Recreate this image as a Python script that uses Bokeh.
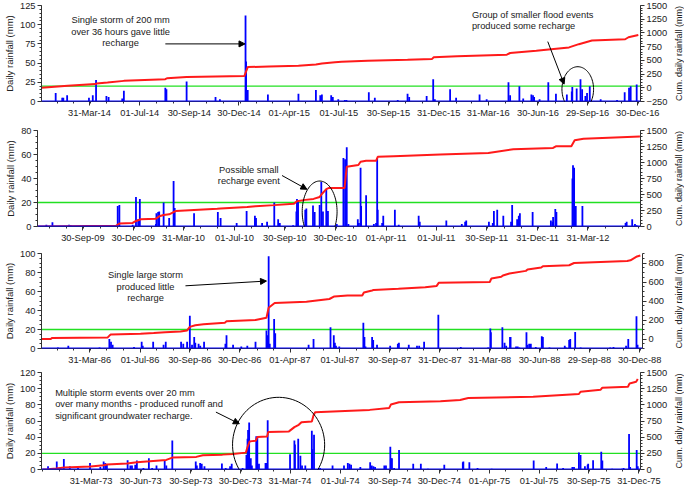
import math
import numpy as np
import pandas as pd
from bokeh.plotting import figure
from bokeh.models import (Range1d, LinearAxis, FixedTicker, DatetimeTickFormatter,
                          Span, Label, Arrow, NormalHead, PolyAnnotation, ColumnDataSource)
from bokeh.layouts import column, row
from bokeh.embed import file_html
from bokeh.resources import INLINE

FONT = "Liberation Sans"
BLUE = "#0000ff"
RED = "#ff1a1a"
GREEN = "#22e022"

# ---------------- Panel 1 (2014-2016) ----------------
p1_rain_dates = ["2014-01-28", "2014-02-09", "2014-02-11", "2014-02-18", "2014-03-30", "2014-04-06",
                 "2014-04-12", "2014-05-01", "2014-05-05", "2014-05-30", "2014-06-02", "2014-08-17",
                 "2014-08-19", "2014-09-25", "2014-11-17", "2014-11-25", "2015-01-11", "2015-01-12",
                 "2015-01-15", "2015-02-21", "2015-04-18", "2015-05-20", "2015-05-28", "2015-05-31",
                 "2015-06-17", "2015-06-20", "2015-06-30", "2015-07-12", "2015-07-15", "2015-08-25",
                 "2015-09-05", "2015-10-17", "2015-11-04", "2015-11-07", "2015-12-09", "2015-12-21",
                 "2015-12-24", "2016-01-21", "2016-02-01", "2016-03-15", "2016-03-28", "2016-05-07",
                 "2016-05-10", "2016-05-27", "2016-06-03", "2016-06-18", "2016-06-21", "2016-06-23",
                 "2016-07-03", "2016-07-19", "2016-08-02", "2016-08-22", "2016-08-31", "2016-09-01",
                 "2016-09-09", "2016-09-16", "2016-09-19", "2016-09-25", "2016-09-28", "2016-10-03",
                 "2016-10-23", "2016-11-22", "2016-12-06", "2016-12-14", "2016-12-17", "2016-12-28"]
p1_rain_mm = [11, 5, 5, 8, 5, 8,
              28, 7, 6, 4, 14, 18,
              16, 26, 6, 3, 112, 52,
              15, 9, 10, 15, 8, 9,
              8, 6, 3, 2, 2, 12,
              5, 2, 10, 6, 7, 29,
              3, 16, 5, 9, 3, 25,
              8, 20, 4, 9, 8, 6,
              3, 25, 10, 9, 13, 19,
              17, 29, 16, 7, 11, 20,
              3, 2, 12, 18, 20, 22]
p1_cum_dates = ["2014-01-02", "2014-01-26", "2014-02-19", "2014-04-11", "2014-04-13", "2014-05-03",
                "2014-06-02", "2014-08-17", "2014-08-20", "2014-09-25", "2015-01-09", "2015-01-15",
                "2015-02-23", "2015-04-18", "2015-05-20", "2015-05-31", "2015-06-24", "2015-07-06",
                "2015-08-23", "2015-11-04", "2015-12-19", "2015-12-22", "2016-02-03", "2016-05-04",
                "2016-05-10", "2016-06-27", "2016-07-15", "2016-08-26", "2016-09-13", "2016-10-07",
                "2016-12-07", "2016-12-13", "2016-12-31"]
p1_cum_mm = [0, 20, 37, 67, 78, 96,
             126, 156, 174, 198, 216, 377,
             389, 401, 425, 443, 467, 473,
             491, 509, 527, 556, 574, 604,
             634, 676, 694, 736, 795, 861,
             885, 921, 963]
p1_tick_dates = ["2014-03-31", "2014-07-01", "2014-09-30", "2014-12-30", "2015-04-01", "2015-07-01",
                 "2015-09-30", "2015-12-31", "2016-03-31", "2016-06-30", "2016-09-29", "2016-12-30"]
p1_daily_ticks = [0, 25, 50, 75, 100, 125]
p1_cum_ticks = [-250, 0, 250, 500, 750, 1000, 1250, 1500]

# ---------------- Panel 2 (2009-2012) ----------------
p2_rain_dates = ["2009-07-26", "2009-08-06", "2009-09-05", "2009-09-08", "2009-12-02", "2009-12-05",
                 "2009-12-29", "2010-01-04", "2010-01-08", "2010-01-11", "2010-02-09", "2010-02-10",
                 "2010-02-13", "2010-02-15", "2010-02-23", "2010-03-05", "2010-03-13", "2010-03-15",
                 "2010-04-19", "2010-06-01", "2010-06-06", "2010-07-05", "2010-07-23", "2010-08-07",
                 "2010-08-09", "2010-08-20", "2010-08-29", "2010-09-11", "2010-09-18", "2010-09-21",
                 "2010-10-15", "2010-10-21", "2010-10-22", "2010-10-24", "2010-11-06", "2010-11-08",
                 "2010-11-20", "2010-11-23", "2010-12-02", "2010-12-05", "2010-12-08", "2010-12-14",
                 "2010-12-17", "2011-01-02", "2011-01-14", "2011-01-17", "2011-01-20", "2011-01-23",
                 "2011-02-09", "2011-02-11", "2011-02-14", "2011-02-15", "2011-02-24", "2011-03-10",
                 "2011-03-14", "2011-03-16", "2011-03-17", "2011-03-25", "2011-03-27", "2011-04-17",
                 "2011-04-24", "2011-05-30", "2011-06-01", "2011-07-19", "2011-08-16", "2011-08-22",
                 "2011-08-24", "2011-10-04", "2011-10-11", "2011-10-13", "2011-10-19", "2011-10-30",
                 "2011-11-13", "2011-11-15", "2011-11-24", "2011-11-27", "2011-11-29", "2011-12-22",
                 "2012-01-24", "2012-01-27", "2012-01-28", "2012-02-01", "2012-02-03", "2012-03-03",
                 "2012-03-04", "2012-03-06", "2012-03-09", "2012-03-21", "2012-06-07", "2012-06-09",
                 "2012-06-19", "2012-06-24", "2012-06-27"]
p2_rain_mm = [1.5, 3.5, 1.5, 1, 17, 18,
              1.5, 24.5, 6, 23, 2, 11,
              12, 12.5, 20, 7, 38, 15.5,
              11, 12, 7, 3, 13, 9,
              7, 3, 4, 20, 6, 3,
              1, 12.5, 23, 22, 14, 15,
              17.5, 12, 18, 37, 12.5, 31,
              13, 2, 57, 56, 66, 2,
              6, 3, 49, 17, 26, 2,
              3, 57, 14, 3, 9, 14,
              1.5, 9, 4, 5, 2, 4,
              5, 4, 3, 13, 14, 9,
              4, 18, 6, 9, 11, 12,
              5, 4, 8, 14.5, 12, 40,
              51, 49, 17, 17, 3, 4,
              6, 2, 1]
p2_cum_dates = ["2009-07-10", "2009-11-29", "2009-12-05", "2009-12-29", "2010-01-04", "2010-01-13",
                "2010-02-09", "2010-02-15", "2010-02-23", "2010-03-05", "2010-03-13", "2010-03-17",
                "2010-04-19", "2010-05-31", "2010-06-06", "2010-07-24", "2010-08-08", "2010-09-11",
                "2010-10-16", "2010-10-22", "2010-11-06", "2010-11-21", "2010-12-02", "2010-12-06",
                "2010-12-14", "2010-12-18", "2011-01-16", "2011-01-20", "2011-02-10", "2011-02-14",
                "2011-02-24", "2011-03-14", "2011-03-17", "2011-04-15", "2011-07-08", "2011-10-03",
                "2011-11-17", "2012-01-28", "2012-02-02", "2012-03-01", "2012-03-07", "2012-03-23",
                "2012-07-03"]
p2_cum_mm = [0, 10, 46, 56, 87, 113,
             123, 159, 180, 190, 226, 241,
             257, 277, 282, 303, 318, 334,
             354, 395, 416, 431, 462, 508,
             585, 600, 600, 935, 960, 1012,
             1027, 1027, 1089, 1099, 1125, 1150,
             1207, 1228, 1253, 1253, 1346, 1371,
             1407]
p2_tick_dates = ["2009-09-30", "2009-12-30", "2010-03-31", "2010-07-01", "2010-09-30", "2010-12-30",
                 "2011-04-01", "2011-07-01", "2011-09-30", "2011-12-31", "2012-03-31"]
p2_daily_ticks = [0, 20, 40, 60, 80]
p2_cum_ticks = [0, 250, 500, 750, 1000, 1250, 1500]

# ---------------- Panel 3 (1986-1988) ----------------
p3_rain_dates = ["1986-02-01", "1986-02-20", "1986-04-18", "1986-05-06", "1986-05-09", "1986-05-12",
                 "1986-06-20", "1986-07-04", "1986-07-06", "1986-07-25", "1986-08-13", "1986-08-17",
                 "1986-09-14", "1986-09-18", "1986-09-25", "1986-09-30", "1986-10-04", "1986-10-08",
                 "1986-10-10", "1986-10-16", "1986-10-19", "1986-10-26", "1986-12-04", "1986-12-06",
                 "1986-12-18", "1987-01-02", "1987-01-13", "1987-01-28", "1987-02-17", "1987-02-19",
                 "1987-02-21", "1987-02-23", "1987-03-03", "1987-03-05", "1987-05-05", "1987-05-14",
                 "1987-06-14", "1987-06-20", "1987-06-22", "1987-06-24", "1987-06-30", "1987-08-13",
                 "1987-08-15", "1987-08-17", "1987-08-29", "1987-08-31", "1987-09-07", "1987-10-01",
                 "1987-10-15", "1987-10-17", "1987-11-04", "1987-11-19", "1987-11-23", "1987-12-02",
                 "1987-12-28", "1988-02-07", "1988-03-28", "1988-04-01", "1988-04-02", "1988-04-23",
                 "1988-04-27", "1988-04-30", "1988-05-07", "1988-05-08", "1988-05-18", "1988-05-21",
                 "1988-05-24", "1988-06-06", "1988-06-08", "1988-06-11", "1988-06-14", "1988-06-23",
                 "1988-07-04", "1988-07-06", "1988-07-18", "1988-08-15", "1988-08-17", "1988-08-23",
                 "1988-08-25", "1988-09-03", "1988-09-13", "1988-11-06", "1988-11-12", "1988-12-05",
                 "1988-12-09", "1988-12-24", "1988-12-26"]
p3_rain_mm = [1, 3, 1, 10, 7, 4,
              1.5, 7, 3, 7, 4, 7,
              7, 5, 7, 34.5, 4, 12,
              6, 5, 3, 7, 5, 14,
              4, 2, 3, 7, 19, 14,
              97, 5, 31, 16, 4, 10,
              22.5, 14, 6, 3, 2, 27,
              12, 2, 12, 9, 4, 3,
              5, 6, 4, 3, 3, 7,
              35.5, 1.5, 1, 21, 17, 22.5,
              6, 3, 12, 12, 2, 2,
              1, 17, 4, 5, 5, 1.5,
              13, 12, 1, 3, 1, 9,
              10, 17.5, 1, 1, 1.5, 3,
              10, 34, 4]
p3_cum_dates = ["1986-01-02", "1986-01-19", "1986-01-21", "1986-05-03", "1986-05-07", "1986-05-09",
                "1986-07-02", "1986-07-26", "1986-08-16", "1986-09-13", "1986-09-25", "1986-09-30",
                "1986-10-10", "1986-10-25", "1986-12-03", "1986-12-06", "1987-01-28", "1987-02-17",
                "1987-02-21", "1987-03-04", "1987-05-01", "1987-05-16", "1987-06-12", "1987-06-21",
                "1987-07-15", "1987-08-11", "1987-08-14", "1987-08-29", "1987-09-01", "1987-10-16",
                "1987-12-04", "1987-12-25", "1987-12-29", "1988-03-31", "1988-04-03", "1988-04-21",
                "1988-04-24", "1988-05-06", "1988-06-05", "1988-06-08", "1988-07-03", "1988-07-06",
                "1988-08-23", "1988-09-01", "1988-12-07", "1988-12-13", "1988-12-25", "1988-12-31"]
p3_cum_mm = [0, 0, 10, 17, 41, 48,
             55, 62, 72, 79, 90, 128,
             145, 155, 172, 186, 200, 224,
             328, 379, 393, 403, 421, 448,
             459, 459, 490, 510, 517, 528,
             545, 559, 593, 600, 638, 655,
             669, 690, 717, 731, 752, 766,
             776, 800, 821, 828, 869, 879]
p3_tick_dates = ["1986-03-31", "1986-07-01", "1986-09-30", "1986-12-30", "1987-04-01", "1987-07-01",
                 "1987-09-30", "1987-12-31", "1988-03-31", "1988-06-30", "1988-09-29", "1988-12-30"]
p3_daily_ticks = [0, 20, 40, 60, 80, 100]
p3_cum_ticks = [0, 200, 400, 600, 800]

# ---------------- Panel 4 (1973-1975) ----------------
p4_rain_dates = ["1973-01-11", "1973-01-27", "1973-02-09", "1973-02-20", "1973-03-07", "1973-03-29",
                 "1973-04-17", "1973-04-23", "1973-04-26", "1973-04-29", "1973-06-06", "1973-06-11",
                 "1973-06-14", "1973-06-20", "1973-06-23", "1973-07-05", "1973-07-15", "1973-07-21",
                 "1973-07-29", "1973-08-13", "1973-08-16", "1973-08-27", "1973-10-09", "1973-10-11",
                 "1973-10-17", "1973-10-20", "1973-10-25", "1973-11-26", "1973-12-03", "1973-12-11",
                 "1973-12-14", "1974-01-03", "1974-01-10", "1974-01-12", "1974-01-13", "1974-01-15",
                 "1974-01-18", "1974-01-20", "1974-01-28", "1974-01-30", "1974-02-02", "1974-02-14",
                 "1974-02-16", "1974-02-18", "1974-03-31", "1974-04-08", "1974-04-09", "1974-04-15",
                 "1974-04-19", "1974-04-22", "1974-04-28", "1974-05-10", "1974-05-11", "1974-05-14",
                 "1974-05-25", "1974-06-17", "1974-07-08", "1974-07-15", "1974-07-18", "1974-07-21",
                 "1974-08-07", "1974-08-25", "1974-08-28", "1974-08-31", "1974-09-03", "1974-09-20",
                 "1974-09-23", "1974-10-01", "1974-10-02", "1974-10-04", "1974-10-08", "1974-10-17",
                 "1974-11-12", "1974-11-26", "1974-12-09", "1975-01-08", "1975-02-11", "1975-02-12",
                 "1975-02-23", "1975-03-10", "1975-04-05", "1975-06-21", "1975-07-14", "1975-08-03",
                 "1975-08-14", "1975-08-31", "1975-09-03", "1975-09-12", "1975-09-15", "1975-09-23",
                 "1975-09-28", "1975-09-29", "1975-10-08", "1975-10-23", "1975-10-25", "1975-11-12",
                 "1975-11-30", "1975-12-03", "1975-12-13", "1975-12-15", "1975-12-27", "1975-12-29"]
p4_rain_mm = [4, 10, 13, 4, 2, 8,
              3, 10, 8, 6, 11.5, 5,
              5, 6, 11, 2, 14, 2,
              5, 11, 5, 36, 10, 5,
              8, 7, 4, 7.5, 2, 4,
              7, 2, 18, 38, 49, 58,
              14, 5, 41, 40, 7, 8,
              8, 61, 19, 36, 31, 38,
              17, 5, 5, 48, 25, 43,
              2, 5, 5, 8, 7, 6,
              3, 9, 5, 4, 3, 5,
              5, 28, 14, 14, 2, 24,
              7, 7, 1, 6, 9, 10,
              9, 2, 1, 11, 3, 7.5,
              2, 3, 3, 21, 18, 4,
              6, 7, 11.5, 22, 11, 1,
              1, 2, 44, 3, 24, 4]
p4_cum_dates = ["1973-01-01", "1973-01-11", "1973-01-26", "1973-02-10", "1973-03-30", "1973-04-23",
                "1973-04-29", "1973-06-05", "1973-06-23", "1973-07-17", "1973-08-16", "1973-08-27",
                "1973-10-10", "1973-10-22", "1973-11-27", "1973-12-16", "1974-01-09", "1974-01-12",
                "1974-01-16", "1974-01-27", "1974-01-30", "1974-02-17", "1974-02-19", "1974-03-29",
                "1974-04-08", "1974-04-16", "1974-04-21", "1974-05-10", "1974-05-13", "1974-05-16",
                "1974-07-10", "1974-08-24", "1974-09-29", "1974-10-02", "1974-10-17", "1975-01-01",
                "1975-02-06", "1975-02-21", "1975-06-20", "1975-09-12", "1975-09-15", "1975-10-22",
                "1975-10-25", "1975-12-11", "1975-12-14", "1975-12-26", "1975-12-29"]
p4_cum_mm = [0, 5, 15, 31, 46, 67,
             77, 92, 113, 128, 148, 184,
             195, 220, 230, 241, 261, 348,
             435, 445, 502, 512, 579, 589,
             655, 691, 732, 742, 835, 886,
             906, 922, 952, 1004, 1039, 1055,
             1075, 1106, 1126, 1167, 1203, 1234,
             1265, 1280, 1331, 1357, 1398]
p4_tick_dates = ["1973-03-31", "1973-06-30", "1973-09-30", "1973-12-30", "1974-03-31", "1974-07-01",
                 "1974-09-30", "1974-12-30", "1975-04-01", "1975-07-01", "1975-09-30", "1975-12-31"]
p4_daily_ticks = [0, 20, 40, 60, 80, 100, 120]
p4_cum_ticks = [0, 250, 500, 750, 1000, 1250, 1500]

# ---------------- annotations ----------------
p1_notes = [("Single storm of 200 mm\nover 36 hours gave little\nrecharge", "2014-05-27", 91, "center"),
            ("Group of smaller flood events\nproduced some recharge", "2016-03-01", 105.5, "left")]
p1_arrows = [("2014-08-17", 75, "2015-01-10", 75), ("2016-07-18", 78, "2016-08-17", 22.6)]
p1_ellipses = [("2016-09-11", 16, 29, 29.3)]

p2_notes = [("Possible small\nrecharge event", "2010-07-27", 42.5, "center")]
p2_arrows = [("2010-09-25", 42.5, "2010-11-09", 31)]
p2_ellipses = [("2010-12-02", 12.3, 31.5, 25.6)]

p3_notes = [("Single large storm\nproduced little\nrecharge", "1986-07-11", 65, "center")]
p3_arrows = [("1986-09-22", 66, "1987-02-17", 71)]
p3_ellipses = []

p4_notes = [("Multiple storm events over 20 mm\nover many months - produced runoff and\nsignificant groundwater recharge.",
             "1973-01-24", 81, "left")]
p4_arrows = [("1973-11-15", 71, "1973-12-28", 56.6)]
p4_ellipses = [("1974-03-10", 30.5, 84.5, 58.8)]

DAY_MS = 86400000.0
FIG_W = 670       # main chart width
TITLE_W = 14      # strip holding the right-axis title
B_LEFT = 37
B_RIGHT = 28


def ms(d):
    return pd.Timestamp(d).value / 1e6


def style_axis(ax):
    ax.axis_label_text_font = FONT
    ax.axis_label_text_font_size = "9.5px"
    ax.axis_label_text_font_style = "normal"
    ax.axis_label_text_color = "#222222"
    ax.major_label_text_font = FONT
    ax.major_label_text_font_size = "9.3px"
    ax.major_label_text_color = "#222222"
    ax.axis_line_color = "#333333"
    ax.major_tick_line_color = "#333333"
    ax.minor_tick_line_color = "#333333"
    ax.major_tick_in = 0
    ax.major_tick_out = 4
    ax.minor_tick_in = 0
    ax.minor_tick_out = 2
    ax.major_label_standoff = 2
    ax.axis_label_standoff = 2


def make_panel(x0, x1, ymax, cum_lo, cum_hi, daily_ticks, daily_minor, cum_ticks, cum_minor,
               tick_dates, rain_dates, rain_mm, cum_dates, cum_mm, notes, arrows, ellipses,
               height, top, bottom):
    p = figure(width=FIG_W, height=height, x_axis_type="datetime",
               x_range=Range1d(ms(x0), ms(x1)), y_range=Range1d(0, ymax),
               output_backend="svg", toolbar_location=None,
               min_border_left=B_LEFT, min_border_right=B_RIGHT, min_border_top=top, min_border_bottom=bottom)
    p.outline_line_color = None
    p.xgrid.visible = False
    p.ygrid.visible = False
    p.background_fill_color = "white"
    p.border_fill_color = "white"

    p.extra_y_ranges = {"cum": Range1d(cum_lo, cum_hi)}

    xa = p.xaxis[0]
    minor = [ms(d) for d in pd.date_range(x0, x1, freq="MS")]
    xa.ticker = FixedTicker(ticks=[ms(d) for d in tick_dates], minor_ticks=minor)
    fmt = "%d-%b-%y"
    xa.formatter = DatetimeTickFormatter(microseconds=fmt, milliseconds=fmt, seconds=fmt, minsec=fmt,
                                         minutes=fmt, hourmin=fmt, hours=fmt, days=fmt, months=fmt,
                                         years=fmt)
    style_axis(xa)

    ya = p.yaxis[0]
    ya.ticker = FixedTicker(ticks=daily_ticks, minor_ticks=daily_minor)
    ya.axis_label = "Daily rainfall (mm)"
    style_axis(ya)

    ra = LinearAxis(y_range_name="cum",
                    ticker=FixedTicker(ticks=cum_ticks, minor_ticks=cum_minor))
    style_axis(ra)
    p.add_layout(ra, "right")

    # 20 mm threshold
    p.add_layout(Span(location=20, dimension="width", line_color=GREEN, line_width=1.3, level="underlay"))

    # daily bars
    src = ColumnDataSource(dict(date=pd.to_datetime(rain_dates), mm=rain_mm))
    p.segment(x0="date", y0=0, x1="date", y1="mm", source=src, line_color=BLUE, line_width=1.8)
    p.add_layout(Span(location=0, dimension="width", line_color=BLUE, line_width=2.2))

    # cumulative line
    csrc = ColumnDataSource(dict(date=pd.to_datetime(cum_dates), mm=cum_mm))
    p.line(x="date", y="mm", source=csrc, y_range_name="cum", line_color=RED, line_width=2)

    for txt, d, v, align in notes:
        p.add_layout(Label(x=ms(d), y=v, text=txt, text_font=FONT, text_font_size="9.3px",
                           text_align=align, text_baseline="middle", text_line_height=1.15,
                           text_color="#1a1a1a"))
    for (ds, vs, de, ve) in arrows:
        p.add_layout(Arrow(end=NormalHead(size=6, fill_color="black", line_color="black", line_width=1),
                           x_start=ms(ds), y_start=vs, x_end=ms(de), y_end=ve,
                           line_color="black", line_width=1))
    for (dc, vc, rx_days, ry_mm) in ellipses:
        t = np.linspace(0, 2 * np.pi, 90)
        xs = list(ms(dc) + rx_days * DAY_MS * np.cos(t))
        ys = list(vc + ry_mm * np.sin(t))
        p.add_layout(PolyAnnotation(xs=xs, ys=ys, fill_alpha=0, line_color="black",
                                    line_alpha=1.0, line_width=1))

    # narrow strip whose (blank) left axis carries the right-hand title, reading bottom-to-top
    t = figure(width=TITLE_W, height=height, output_backend="svg", toolbar_location=None,
               x_range=Range1d(0, 1), y_range=Range1d(cum_lo, cum_hi),
               x_axis_location=None, y_axis_location="left",
               min_border_left=TITLE_W - 1, min_border_right=0, min_border_top=top, min_border_bottom=bottom)
    t.outline_line_color = None
    t.xgrid.visible = False
    t.ygrid.visible = False
    tax = t.yaxis[0]
    tax.ticker = FixedTicker(ticks=[])
    tax.axis_label = "Cum. daily rainfall (mm)"
    style_axis(tax)
    tax.axis_label_text_font_size = "9px"
    tax.axis_line_color = None
    tax.major_tick_line_color = None
    tax.minor_tick_line_color = None
    tax.major_tick_out = 0
    tax.minor_tick_out = 0
    tax.major_label_standoff = 0
    tax.axis_label_standoff = 0
    return row(p, t)


r1 = make_panel("2014-01-02", "2017-01-04", 125, -250, 1500, p1_daily_ticks, list(range(0, 126, 5)),
                p1_cum_ticks, list(range(-250, 1501, 50)), p1_tick_dates, p1_rain_dates, p1_rain_mm,
                p1_cum_dates, p1_cum_mm, p1_notes, p1_arrows, p1_ellipses, 120, 5, 17)
r2 = make_panel("2009-07-10", "2012-07-04", 80, 0, 1500, p2_daily_ticks, list(range(0, 81, 5)),
                p2_cum_ticks, list(range(0, 1501, 50)), p2_tick_dates, p2_rain_dates, p2_rain_mm,
                p2_cum_dates, p2_cum_mm, p2_notes, p2_arrows, p2_ellipses, 125, 10, 18)
r3 = make_panel("1986-01-02", "1989-01-04", 100, -100, 900, p3_daily_ticks, list(range(0, 101, 5)),
                p3_cum_ticks, list(range(-100, 901, 50)), p3_tick_dates, p3_rain_dates, p3_rain_mm,
                p3_cum_dates, p3_cum_mm, p3_notes, p3_arrows, p3_ellipses, 122, 8, 17)
r4 = make_panel("1972-12-30", "1976-01-03", 120, 0, 1500, p4_daily_ticks, list(range(0, 121, 5)),
                p4_cum_ticks, list(range(0, 1501, 50)), p4_tick_dates, p4_rain_dates, p4_rain_mm,
                p4_cum_dates, p4_cum_mm, p4_notes, p4_arrows, p4_ellipses, 125, 5, 23)

layout = column(r1, r2, r3, r4)
open("out.html", "w").write(file_html(layout, INLINE))
